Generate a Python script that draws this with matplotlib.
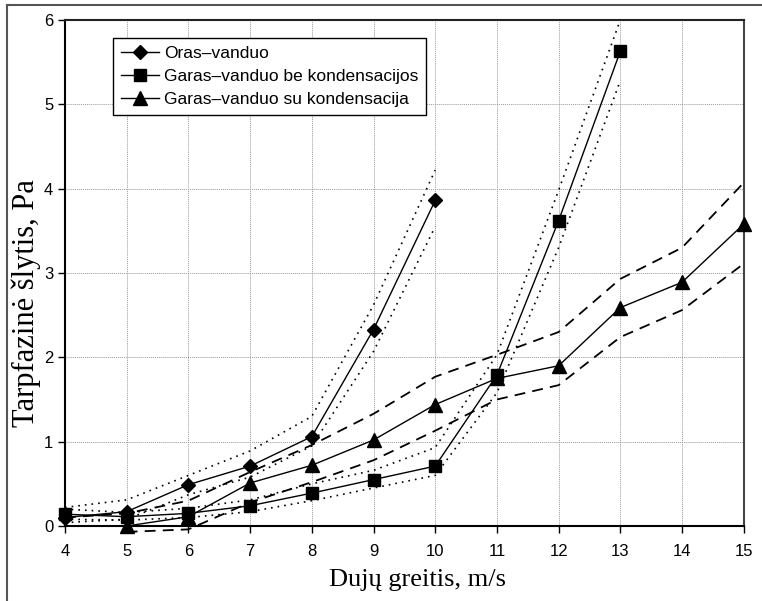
import matplotlib
matplotlib.use('Agg')
import matplotlib.pyplot as plt
from matplotlib.lines import Line2D

# duomenys
x_oras = [4, 5, 6, 7, 8, 9, 10]
y_oras = [0.10, 0.17, 0.49, 0.71, 1.06, 2.33, 3.86]
y_oras_up = [0.22, 0.31, 0.60, 0.89, 1.30, 2.62, 4.22]
y_oras_lo = [0.04, 0.08, 0.37, 0.58, 0.95, 2.07, 3.55]

x_be = [4, 5, 6, 7, 8, 9, 10, 11, 12, 13]
y_be = [0.14, 0.11, 0.15, 0.24, 0.39, 0.55, 0.71, 1.79, 3.62, 5.63]
y_be_up = [0.20, 0.16, 0.21, 0.31, 0.50, 0.66, 0.93, 2.03, 3.98, 6.00]
y_be_lo = [0.08, 0.07, 0.10, 0.17, 0.30, 0.45, 0.60, 1.58, 3.30, 5.28]

x_su = [4, 5, 6, 7, 8, 9, 10, 11, 12, 13, 14, 15]
y_su = [0.00, 0.00, 0.11, 0.51, 0.72, 1.02, 1.44, 1.75, 1.90, 2.59, 2.89, 3.58]
x_su_up = [4, 5, 6, 7, 8, 9, 10, 11, 12, 13, 14, 15]
y_su_up = [0.10, 0.15, 0.30, 0.64, 0.96, 1.33, 1.77, 2.03, 2.30, 2.93, 3.30, 4.07]
x_su_lo = [5, 6, 7, 8, 9, 10, 11, 12, 13, 14, 15]
y_su_lo = [-0.07, -0.04, 0.28, 0.52, 0.78, 1.13, 1.50, 1.67, 2.24, 2.56, 3.11]

labels = ['Oras\u2013vanduo', 'Garas\u2013vanduo be kondensacijos',
          'Garas\u2013vanduo su kondensacija']

fig = plt.figure(figsize=(7.62, 6.01), dpi=100)
fig.patch.set_facecolor('white')
ax = fig.add_axes([0.0853, 0.1248, 0.8907, 0.8419])

# gaubtinės
DOT = (0, (1, 3))
DASH = (0, (6, 4))
ax.plot(x_oras, y_oras_up, color='black', lw=1.2, ls=DOT)
ax.plot(x_oras, y_oras_lo, color='black', lw=1.2, ls=DOT)
ax.plot(x_be, y_be_up, color='black', lw=1.2, ls=DOT)
ax.plot(x_be, y_be_lo, color='black', lw=1.2, ls=DOT)
ax.plot(x_su_up, y_su_up, color='black', lw=1.3, ls=DASH, clip_on=False)
ax.plot(x_su_lo, y_su_lo, color='black', lw=1.3, ls=DASH, clip_on=False)

# pagrindinės kreivės
ax.plot(x_oras, y_oras, color='black', lw=1, marker='D', ms=7.5, zorder=5,
        clip_on=False)
ax.plot(x_be, y_be, color='black', lw=1, marker='s', ms=8.5, zorder=5,
        clip_on=False)
ax.plot(x_su, y_su, color='black', lw=1, marker='^', ms=9.5, zorder=5,
        markevery=list(range(1, len(x_su))), clip_on=False)

ax.set_xlim(4, 15)
ax.set_ylim(0, 6)
ax.set_xticks(range(4, 16))
ax.set_yticks(range(0, 7))
ax.grid(True, color='#999999', ls=(0, (1, 1)), lw=0.7)
ax.set_axisbelow(True)
for s in ax.spines.values():
    s.set_linewidth(1.5)
ax.spines['right'].set_color('#444444')
ax.spines['top'].set_color('#222222')
ax.tick_params(axis='both', direction='out', length=5, width=1, labelsize=12)
ax.tick_params(axis='x', pad=8)
ax.tick_params(axis='y', pad=3.5)
for t in ax.get_xticklabels() + ax.get_yticklabels():
    t.set_family('Liberation Sans')

ax.set_xlabel('Dujų greitis, m/s', family='Liberation Serif', fontsize=19)
ax.xaxis.set_label_coords(0.52, -0.085)
ax.set_ylabel('Tarpfazinė šlytis, Pa', family='Liberation Serif', fontsize=22)
ax.yaxis.set_label_coords(-0.036, 0.44)

handles = [
    Line2D([], [], color='black', lw=1, marker='D', ms=7.5),
    Line2D([], [], color='black', lw=1, marker='s', ms=8.5),
    Line2D([], [], color='black', lw=1, marker='^', ms=9.5),
]
leg = ax.legend(handles, labels, loc='upper left',
                bbox_to_anchor=(0.0707, 0.9644), borderaxespad=0,
                fancybox=False, edgecolor='black', framealpha=1,
                prop={'family': 'Liberation Sans', 'size': 12.5},
                handlelength=2.2, borderpad=0.45, labelspacing=0.45,
                handletextpad=0.3)
leg.get_frame().set_linewidth(1)

# išorinis rėmelis
fig.add_artist(Line2D([0.009, 0.009], [0, 0.992], color='#555555', lw=1.5,
                      transform=fig.transFigure))
fig.add_artist(Line2D([0.009, 1], [0.992, 0.992], color='#555555', lw=1.5,
                      transform=fig.transFigure))

fig.savefig('out.png', dpi=100, facecolor='white')
